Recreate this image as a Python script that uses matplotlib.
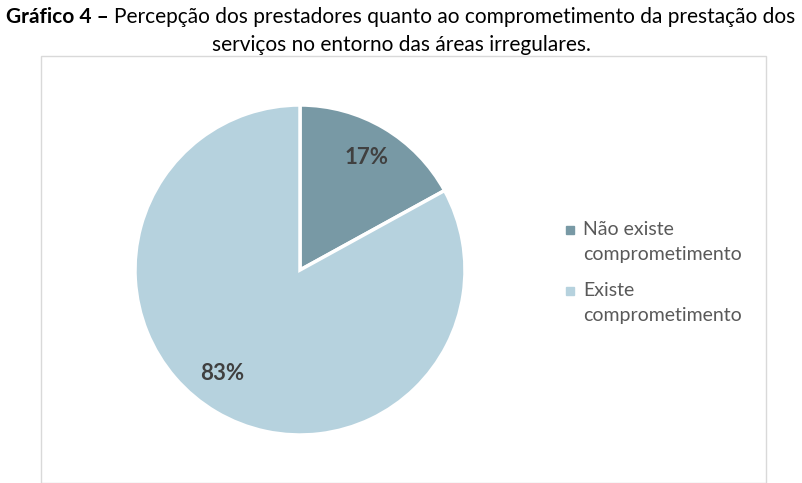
import matplotlib.pyplot as plt
from matplotlib.patches import Rectangle
from matplotlib.lines import Line2D

# data
labels = ['Não existe\ncomprometimento', 'Existe\ncomprometimento']
values = [17, 83]
colors = ['#7899A5', '#B6D2DE']
title_bold = 'Gráfico 4 – '
title_1 = 'Percepção dos prestadores quanto ao comprometimento da prestação dos'
title_2 = 'serviços no entorno das áreas irregulares.'

plt.rcParams['font.family'] = ['Lato', 'DejaVu Sans']

W, H = 802, 483
fig = plt.figure(figsize=(W / 100, H / 100), dpi=100)
renderer = fig.canvas.get_renderer()

# chart frame
fig.patches.append(Rectangle((41 / W, 0), (766 - 41) / W, (H - 56) / H,
                             transform=fig.transFigure, fill=False,
                             edgecolor='#D9D9D9', linewidth=1))

# title, bold lead-in followed by normal text, centered as one line
fs_title = 15
tb = fig.text(0, 1 - 17 / H, title_bold, ha='left', va='center',
              fontsize=fs_title, fontweight='bold')
tn = fig.text(0, 1 - 17 / H, title_1, ha='left', va='center', fontsize=fs_title)
wb = tb.get_window_extent(renderer).width
wn = tn.get_window_extent(renderer).width
x0 = (W - wb - wn) / 2
tb.set_x(x0 / W)
tn.set_x((x0 + wb) / W)
fig.text(0.5, 1 - 45 / H, title_2, ha='center', va='center', fontsize=fs_title)

# pie
cx, cy, r = 300, 270, 165
ax = fig.add_axes([(cx - r) / W, (H - cy - r) / H, 2 * r / W, 2 * r / H])
wedges, _ = ax.pie(values, colors=colors, startangle=90, counterclock=False,
                   wedgeprops=dict(edgecolor='white', linewidth=2.5))
ax.set_xlim(-1, 1)
ax.set_ylim(-1, 1)
ax.set_aspect('equal')

# percent labels
fig.text(367 / W, 1 - 158 / H, f'{values[0]}%', ha='center', va='center',
         fontsize=16, fontweight='bold', color='#404040')
fig.text(222 / W, 1 - 374 / H, f'{values[1]}%', ha='center', va='center',
         fontsize=16, fontweight='bold', color='#404040')

# legend (marker sits beside the first line of each label)
for i, (lab, c) in enumerate(zip(labels, colors)):
    y = 230 + i * 61
    fig.lines.append(Line2D([570 / W], [1 - y / H], marker='s', markersize=6,
                            color=c, linestyle='', transform=fig.transFigure))
    fig.text(583 / W, 1 - (y - 9) / H, lab, ha='left', va='top', fontsize=14,
             color='#595959', linespacing=1.6)

fig.savefig('out.png', dpi=100)
